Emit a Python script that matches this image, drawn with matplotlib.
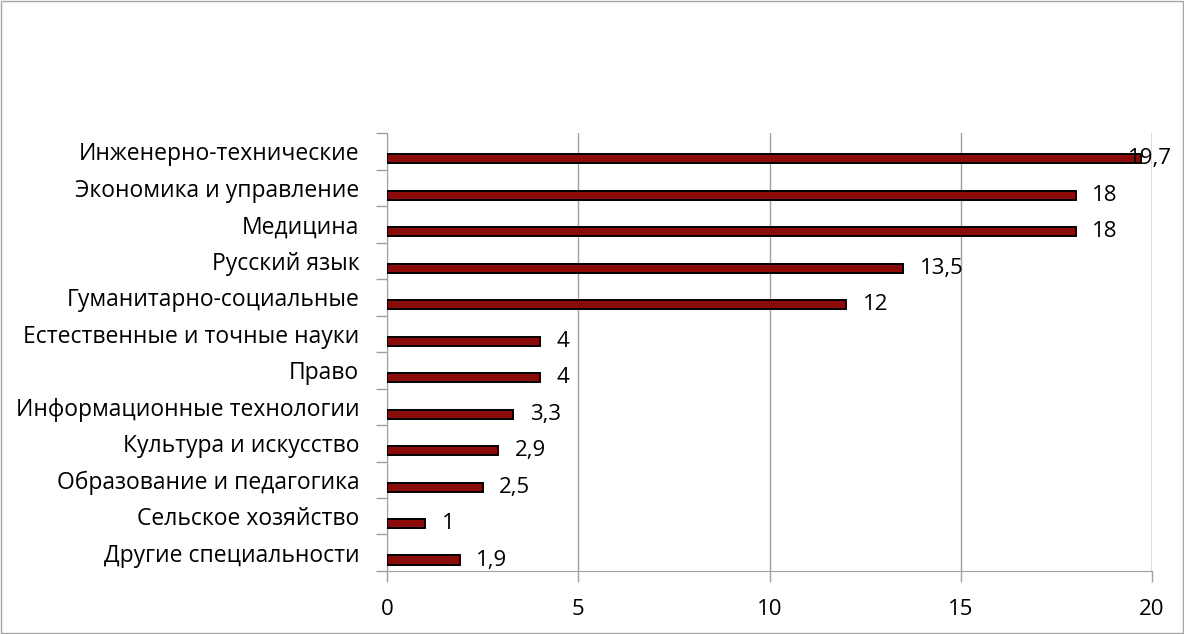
import matplotlib.pyplot as plt
from matplotlib.patches import Rectangle
import numpy as np

plt.rcParams['font.family'] = ['Open Sans', 'DejaVu Sans']

categories = ['Инженерно-технические', 'Экономика и управление', 'Медицина',
              'Русский язык', 'Гуманитарно-социальные', 'Естественные и точные науки',
              'Право', 'Информационные технологии', 'Культура и искусство',
              'Образование и педагогика', 'Сельское хозяйство', 'Другие специальности']
values = [19.7, 18, 18, 13.5, 12, 4, 4, 3.3, 2.9, 2.5, 1, 1.9]
labels = ['19,7', '18', '18', '13,5', '12', '4', '4', '3,3', '2,9', '2,5', '1', '1,9']
xticks = [0, 5, 10, 15, 20]

fig = plt.figure(figsize=(11.84, 6.34), dpi=100)
fig.patches.append(Rectangle((0.001, 0.001), 0.998, 0.997, transform=fig.transFigure,
                             fill=False, edgecolor='#a6a6a6', linewidth=1))
ax = fig.add_axes([0.3269, 0.0994, 0.6461, 0.6906])

n = len(categories)
pos = np.arange(n)[::-1]  # top category at top
ax.barh(pos - 0.2, values, height=0.25, color='#8b0a0a', edgecolor='black', linewidth=1.4, zorder=3)

for p, v, lab in zip(pos, values, labels):
    dx = 12 if v < 19 else -9
    ax.annotate(lab, (v, p - 0.2), xytext=(dx, 0), textcoords='offset points',
                va='center', ha='left', fontsize=16, zorder=4)

ax.set_xlim(0, 20)
ax.set_ylim(-0.5, n - 0.5)
ax.set_xticks(xticks)
ax.set_xticklabels([str(t) for t in xticks], fontsize=16)
ax.set_yticks(pos)
ax.set_yticklabels(categories, fontsize=16.5)
ax.set_yticks(np.arange(n + 1) - 0.5, minor=True)
ax.tick_params(axis='y', which='major', length=0, pad=20)
ax.tick_params(axis='y', which='minor', length=8, color='#a0a0a0', width=1)
ax.tick_params(axis='x', length=8, color='#a0a0a0', width=1, pad=12)

ax.grid(axis='x', color='#a0a0a0', linewidth=1, zorder=0)
for s in ['top', 'right']:
    ax.spines[s].set_visible(False)
for s in ['left', 'bottom']:
    ax.spines[s].set_color('#a0a0a0')
ax.axvline(20, color='#a0a0a0', linewidth=1, zorder=0)

fig.savefig('out.png', dpi=100)
